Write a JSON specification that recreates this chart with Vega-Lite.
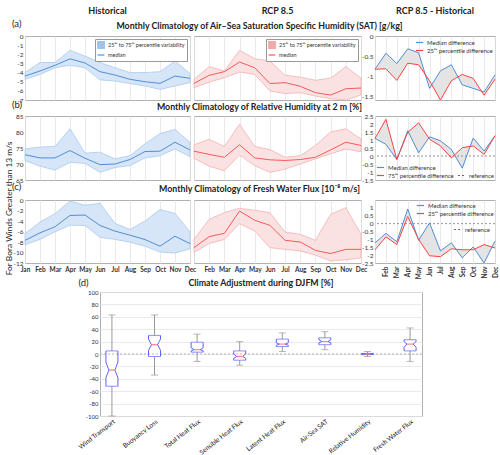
{
  "$schema": "https://vega.github.io/schema/vega-lite/v6.json",
  "background": "white",
  "padding": {"left": 3, "top": 0, "right": 0, "bottom": 0},
  "config": {
    "font": "Lato",
    "view": {"stroke": "#b0b0b0", "strokeWidth": 1},
    "axis": {"labelFont": "Lato", "labelFontSize": 6.5, "labelColor": "#333", "ticks": false, "domain": false, "gridColor": "#e4e4e4", "gridWidth": 0.8, "labelPadding": 2, "labelOverlap": false},
    "title": {"font": "Lato", "fontSize": 8.8, "fontWeight": "bold", "color": "#222", "baseline": "alphabetic", "offset": 4},
    "legend": {"labelFont": "Lato", "labelFontSize": 6, "labelColor": "#333", "rowPadding": 0, "symbolStrokeWidth": 1.2, "labelOffset": 3},
    "locale": {"number": {"decimal": ".", "thousands": ",", "grouping": [3], "currency": ["$", ""], "minus": "-"}}
  },
  "datasets": {
    "histA": [
      {"month": "Jan", "lo": -4.74, "med": -4.38, "hi": -4.0},
      {"month": "Feb", "lo": -4.2, "med": -3.83, "hi": -2.9},
      {"month": "Mar", "lo": -3.47, "med": -3.2, "hi": -2.9},
      {"month": "Apr", "lo": -3.2, "med": -2.5, "hi": -1.57},
      {"month": "May", "lo": -3.47, "med": -2.95, "hi": -2.2},
      {"month": "Jun", "lo": -4.8, "med": -3.9, "hi": -2.9},
      {"month": "Jul", "lo": -4.93, "med": -4.27, "hi": -3.47},
      {"month": "Aug", "lo": -5.2, "med": -4.74, "hi": -4.0},
      {"month": "Sep", "lo": -5.47, "med": -5.0, "hi": -4.0},
      {"month": "Oct", "lo": -5.84, "med": -5.18, "hi": -3.9},
      {"month": "Nov", "lo": -5.47, "med": -4.38, "hi": -2.74},
      {"month": "Dec", "lo": -5.1, "med": -4.63, "hi": -4.1}
    ],
    "rcpA": [
      {"month": "Jan", "lo": -5.66, "med": -5.18, "hi": -4.74},
      {"month": "Feb", "lo": -5.04, "med": -4.3, "hi": -3.36},
      {"month": "Mar", "lo": -4.56, "med": -3.9, "hi": -3.83},
      {"month": "Apr", "lo": -3.94, "med": -2.85, "hi": -1.57},
      {"month": "May", "lo": -4.2, "med": -3.47, "hi": -2.48},
      {"month": "Jun", "lo": -6.0, "med": -5.2, "hi": -2.74},
      {"month": "Jul", "lo": -6.3, "med": -5.1, "hi": -4.3},
      {"month": "Aug", "lo": -6.2, "med": -5.5, "hi": -4.5},
      {"month": "Sep", "lo": -6.57, "med": -6.2, "hi": -4.85},
      {"month": "Oct", "lo": -6.86, "med": -6.46, "hi": -4.6},
      {"month": "Nov", "lo": -7.0, "med": -5.77, "hi": -3.36},
      {"month": "Dec", "lo": -6.45, "med": -5.69, "hi": -4.6}
    ],
    "diffA": [
      {"month": "Jan", "med": -0.83, "p": -0.83},
      {"month": "Feb", "med": -0.43, "p": -0.82},
      {"month": "Mar", "med": -0.69, "p": -1.11},
      {"month": "Apr", "med": -0.32, "p": -0.68},
      {"month": "May", "med": -0.42, "p": -0.72},
      {"month": "Jun", "med": -1.31, "p": -1.12},
      {"month": "Jul", "med": -0.87, "p": -1.6},
      {"month": "Aug", "med": -0.72, "p": -1.12},
      {"month": "Sep", "med": -1.22, "p": -0.96},
      {"month": "Oct", "med": -1.31, "p": -1.06},
      {"month": "Nov", "med": -1.4, "p": -1.48},
      {"month": "Dec", "med": -0.97, "p": -1.08}
    ],
    "histB": [
      {"month": "Jan", "lo": 71.1, "med": 72.9, "hi": 74.7},
      {"month": "Feb", "lo": 69.3, "med": 71.9, "hi": 75.3},
      {"month": "Mar", "lo": 68.1, "med": 71.9, "hi": 75.5},
      {"month": "Apr", "lo": 70.5, "med": 74.2, "hi": 81.0},
      {"month": "May", "lo": 70.2, "med": 71.8, "hi": 73.4},
      {"month": "Jun", "lo": 67.4, "med": 69.8, "hi": 73.7},
      {"month": "Jul", "lo": 68.9, "med": 70.0, "hi": 71.6},
      {"month": "Aug", "lo": 69.5, "med": 71.4, "hi": 72.6},
      {"month": "Sep", "lo": 71.9, "med": 73.9, "hi": 76.3},
      {"month": "Oct", "lo": 72.6, "med": 74.0, "hi": 79.5},
      {"month": "Nov", "lo": 74.7, "med": 76.8, "hi": 80.8},
      {"month": "Dec", "lo": 72.3, "med": 74.4, "hi": 76.8}
    ],
    "rcpB": [
      {"month": "Jan", "lo": 71.8, "med": 74.0, "hi": 76.0},
      {"month": "Feb", "lo": 69.3, "med": 73.0, "hi": 77.7},
      {"month": "Mar", "lo": 67.9, "med": 72.1, "hi": 75.5},
      {"month": "Apr", "lo": 72.8, "med": 76.0, "hi": 82.4},
      {"month": "May", "lo": 69.5, "med": 71.9, "hi": 75.5},
      {"month": "Jun", "lo": 67.4, "med": 71.3, "hi": 74.5},
      {"month": "Jul", "lo": 68.4, "med": 71.1, "hi": 72.1},
      {"month": "Aug", "lo": 70.0, "med": 71.4, "hi": 72.6},
      {"month": "Sep", "lo": 71.6, "med": 72.1, "hi": 75.8},
      {"month": "Oct", "lo": 73.2, "med": 74.4, "hi": 80.0},
      {"month": "Nov", "lo": 74.7, "med": 76.8, "hi": 81.0},
      {"month": "Dec", "lo": 73.8, "med": 75.8, "hi": 77.8}
    ],
    "diffB": [
      {"month": "Jan", "med": 1.1, "p": 1.1},
      {"month": "Feb", "med": 0.73, "p": 2.29},
      {"month": "Mar", "med": -0.22, "p": -0.22},
      {"month": "Apr", "med": 1.58, "p": 1.48},
      {"month": "May", "med": 0.2, "p": 2.07},
      {"month": "Jun", "med": 1.2, "p": 1.05},
      {"month": "Jul", "med": 0.95, "p": 0.63},
      {"month": "Aug", "med": 0.41, "p": -0.12},
      {"month": "Sep", "med": -0.76, "p": 0.52},
      {"month": "Oct", "med": 1.12, "p": 0.63},
      {"month": "Nov", "med": 0.31, "p": 0.1},
      {"month": "Dec", "med": 1.27, "p": 1.27}
    ],
    "histC": [
      {"month": "Jan", "lo": -8.5, "med": -7.7, "hi": -6.4},
      {"month": "Feb", "lo": -7.5, "med": -6.25, "hi": -4.2},
      {"month": "Mar", "lo": -6.06, "med": -5.1, "hi": -2.6},
      {"month": "Apr", "lo": -4.8, "med": -2.94, "hi": -0.2},
      {"month": "May", "lo": -4.85, "med": -2.87, "hi": -1.0},
      {"month": "Jun", "lo": -7.1, "med": -4.85, "hi": -0.64},
      {"month": "Jul", "lo": -7.5, "med": -5.93, "hi": -4.47},
      {"month": "Aug", "lo": -8.04, "med": -6.7, "hi": -5.6},
      {"month": "Sep", "lo": -8.8, "med": -7.53, "hi": -4.0},
      {"month": "Oct", "lo": -9.9, "med": -8.8, "hi": -1.8},
      {"month": "Nov", "lo": -10.1, "med": -6.9, "hi": -2.55},
      {"month": "Dec", "lo": -9.3, "med": -8.3, "hi": -6.06}
    ],
    "rcpC": [
      {"month": "Jan", "lo": -10.0, "med": -9.08, "hi": -7.5},
      {"month": "Feb", "lo": -8.3, "med": -6.98, "hi": -3.68},
      {"month": "Mar", "lo": -7.5, "med": -6.35, "hi": -2.41},
      {"month": "Apr", "lo": -4.5, "med": -2.1, "hi": -1.59},
      {"month": "May", "lo": -5.9, "med": -3.87, "hi": -1.97},
      {"month": "Jun", "lo": -9.08, "med": -4.83, "hi": -2.41},
      {"month": "Jul", "lo": -9.4, "med": -7.68, "hi": -6.1},
      {"month": "Aug", "lo": -9.7, "med": -8.0, "hi": -6.54},
      {"month": "Sep", "lo": -10.5, "med": -9.6, "hi": -7.7},
      {"month": "Oct", "lo": -11.6, "med": -10.2, "hi": -2.73},
      {"month": "Nov", "lo": -11.4, "med": -9.4, "hi": -1.46},
      {"month": "Dec", "lo": -11.0, "med": -9.4, "hi": -6.54}
    ],
    "diffC": [
      {"month": "Jan", "med": -1.22, "p": -1.66},
      {"month": "Feb", "med": -0.62, "p": -0.84},
      {"month": "Mar", "med": -1.15, "p": -1.33},
      {"month": "Apr", "med": 0.93, "p": 0.45},
      {"month": "May", "med": -1.06, "p": -1.0},
      {"month": "Jun", "med": 0.05, "p": -2.04},
      {"month": "Jul", "med": -1.73, "p": -2.1},
      {"month": "Aug", "med": -1.22, "p": -1.6},
      {"month": "Sep", "med": -2.17, "p": -1.66},
      {"month": "Oct", "med": -1.48, "p": -1.66},
      {"month": "Nov", "med": -2.5, "p": -1.33},
      {"month": "Dec", "med": -1.1, "p": -1.55}
    ],
    "box": [
      {"cat": "Wind Transport", "lo": -100, "q1": -52, "nlo": -38, "med": -26, "nhi": -13, "q3": 5, "hi": 63},
      {"cat": "Buoyancy Loss", "lo": -34, "q1": -4, "nlo": 6, "med": 15, "nhi": 24, "q3": 30, "hi": 63},
      {"cat": "Total Heat Flux", "lo": -12, "q1": 3, "nlo": 5, "med": 7, "nhi": 10, "q3": 19, "hi": 32},
      {"cat": "Sensible Heat Flux", "lo": -18, "q1": -10, "nlo": -7, "med": -4, "nhi": 0, "q3": 5, "hi": 20},
      {"cat": "Latent Heat Flux", "lo": 4, "q1": 12, "nlo": 14, "med": 16, "nhi": 18, "q3": 24, "hi": 34},
      {"cat": "Air-Sea SAT", "lo": 7, "q1": 15, "nlo": 18, "med": 20, "nhi": 23, "q3": 26, "hi": 36},
      {"cat": "Relative Humidity", "lo": -4, "q1": -1, "nlo": -0.5, "med": 0, "nhi": 0.5, "q3": 1, "hi": 4},
      {"cat": "Fresh Water Flux", "lo": -12, "q1": 5, "nlo": 11, "med": 16, "nhi": 20, "q3": 23, "hi": 42}
    ]
  },
  "spacing": 0,
  "resolve": {"scale": {"x": "independent", "y": "independent", "color": "independent", "strokeDash": "independent"}, "axis": {"x": "independent", "y": "independent"}, "legend": {"color": "independent", "strokeDash": "independent"}},
  "vconcat": [
    {
      "columns": 4,
      "bounds": "flush",
      "align": "each",
      "spacing": {"row": 16, "column": 4},
      "resolve": {"scale": {"x": "independent", "y": "independent", "color": "independent", "strokeDash": "independent"}, "axis": {"x": "independent", "y": "independent"}, "legend": {"color": "independent", "strokeDash": "independent"}},
      "concat": [
        {"width": 165, "height": 19, "data": {"values": [{}]}, "view": {"stroke": "transparent"},
         "mark": {"type": "text", "font": "Lato", "fontSize": 9, "fontWeight": "bold", "color": "#222"},
         "encoding": {"text": {"value": "Historical"}}},
        {"width": 167, "height": 19, "data": {"values": [{}]}, "view": {"stroke": "transparent"},
         "mark": {"type": "text", "font": "Lato", "fontSize": 9, "fontWeight": "bold", "color": "#222"},
         "encoding": {"text": {"value": "RCP 8.5"}}},
        {"width": 6, "height": 19, "data": {"values": [{}]}, "view": {"stroke": null},
         "mark": {"type": "text"}, "encoding": {"text": {"value": ""}}},
        {"width": 120, "height": 19, "data": {"values": [{}]}, "view": {"stroke": "transparent"},
         "mark": {"type": "text", "font": "Lato", "fontSize": 9, "fontWeight": "bold", "color": "#222"},
         "encoding": {"text": {"value": "RCP 8.5 - Historical"}}},

        {"width": 165, "height": 64,
         "title": {"text": "(a)", "anchor": "start", "frame": "group", "dx": -13, "fontWeight": "normal", "fontSize": 9.5, "offset": 5},
         "data": {"name": "histA"},
         "encoding": {"x": {"field": "month", "type": "ordinal", "sort": null, "scale": {"type": "point", "padding": 0}, "axis": {"title": null, "labels": false, "grid": true}}},
         "layer": [
           {"mark": {"type": "area", "fill": "#d6e6f8", "stroke": "#a9c9ee", "strokeWidth": 0.8},
            "encoding": {
              "y": {"field": "lo", "type": "quantitative", "scale": {"domain": [-7, 0], "nice": false, "zero": false}, "axis": {"title": null, "values": [-7, -6, -5, -4, -3, -2, -1, 0], "tickCount": 30, "format": "~g", "grid": false}},
              "y2": {"field": "hi"},
              "order": {"value": null},
              "color": {"datum": "25ᵗʰ to 75ᵗʰ percentile variability", "scale": {"domain": ["25ᵗʰ to 75ᵗʰ percentile variability", "median"], "range": ["#9fc3ec", "#4f8fd6"]},
                        "legend": {"title": null, "orient": "top-right", "offset": 3, "fillColor": "white", "strokeColor": "#999", "padding": 2, "labelFontSize": 5.5, "symbolSize": 45,
                                   "symbolType": {"expr": "datum.value === 'median' ? 'stroke' : 'square'"}}}
            }},
           {"mark": {"type": "line", "stroke": "#4f8fd6", "strokeWidth": 1},
            "encoding": {"y": {"field": "med", "type": "quantitative"}, "order": {"value": null}, "color": {"datum": "median"}}}
         ]},
        {"width": 167, "height": 64,
         "title": {"text": "Monthly Climatology of Air–Sea Saturation Specific Humidity (SAT)  [g/kg]", "anchor": "middle", "frame": "group", "dx": -18, "offset": 5},
         "data": {"name": "rcpA"},
         "encoding": {"x": {"field": "month", "type": "ordinal", "sort": null, "scale": {"type": "point", "padding": 0}, "axis": {"title": null, "labels": false, "grid": true}}},
         "layer": [
           {"mark": {"type": "area", "fill": "#fbe2e2", "stroke": "#f5b0b0", "strokeWidth": 0.8},
            "encoding": {
              "y": {"field": "lo", "type": "quantitative", "scale": {"domain": [-7, 0], "nice": false, "zero": false}, "axis": null},
              "y2": {"field": "hi"},
              "order": {"value": null},
              "color": {"datum": "25ᵗʰ to 75ᵗʰ percentile variability", "scale": {"domain": ["25ᵗʰ to 75ᵗʰ percentile variability", "median"], "range": ["#f3a9a9", "#f25a5a"]},
                        "legend": {"title": null, "orient": "top-right", "offset": 3, "fillColor": "white", "strokeColor": "#999", "padding": 2, "labelFontSize": 5.5, "symbolSize": 45,
                                   "symbolType": {"expr": "datum.value === 'median' ? 'stroke' : 'square'"}}}
            }},
           {"mark": {"type": "line", "stroke": "#f25a5a", "strokeWidth": 1},
            "encoding": {"y": {"field": "med", "type": "quantitative"}, "order": {"value": null}, "color": {"datum": "median"}}}
         ]},
        {"width": 6, "height": 64, "data": {"values": [{}]}, "view": {"stroke": null},
         "mark": {"type": "text"}, "encoding": {"text": {"value": ""}}},
        {"width": 120, "height": 64,
         "data": {"name": "diffA"},
         "layer": [
           {"mark": {"type": "area", "fill": "#e4e4e4", "stroke": null},
            "encoding": {"x": {"field": "month", "type": "ordinal", "sort": null, "scale": {"type": "point", "padding": 0}, "axis": {"title": null, "labels": false, "grid": true}},
                         "y": {"field": "med", "type": "quantitative", "scale": {"domain": [-1.6, 0], "nice": false, "zero": false}, "axis": {"title": null, "values": [-1.5, -1, -0.5, 0], "tickCount": 30, "format": "~g", "grid": false}},
                         "y2": {"field": "p"}, "order": {"value": null}}},
           {"mark": {"type": "line", "strokeWidth": 1},
            "encoding": {"x": {"field": "month", "type": "ordinal", "sort": null}, "y": {"field": "med", "type": "quantitative"}, "order": {"value": null},
                         "color": {"datum": "Median difference", "scale": {"domain": ["Median difference", "25ᵗʰ percentile difference"], "range": ["#4c8fd6", "#ff4040"]},
                                   "legend": {"title": null, "orient": "top-right", "offset": 2, "labelFontSize": 6, "symbolSize": 50}}}},
           {"mark": {"type": "line", "strokeWidth": 1},
            "encoding": {"x": {"field": "month", "type": "ordinal", "sort": null}, "y": {"field": "p", "type": "quantitative"}, "order": {"value": null}, "color": {"datum": "25ᵗʰ percentile difference"}}}
         ]},

        {"width": 165, "height": 64,
         "title": {"text": "(b)", "anchor": "start", "frame": "group", "dx": -13, "fontWeight": "normal", "fontSize": 9.5, "offset": 4},
         "data": {"name": "histB"},
         "encoding": {"x": {"field": "month", "type": "ordinal", "sort": null, "scale": {"type": "point", "padding": 0}, "axis": {"title": null, "labels": false, "grid": true}}},
         "layer": [
           {"mark": {"type": "area", "fill": "#d6e6f8", "stroke": "#a9c9ee", "strokeWidth": 0.8},
            "encoding": {
              "y": {"field": "lo", "type": "quantitative", "scale": {"domain": [65, 85], "nice": false, "zero": false},
                    "axis": {"title": "For Bora Winds Greater than 13 m/s", "titleX": -17, "titleY": 92, "titleAngle": -90, "titleAlign": "center", "titleBaseline": "middle", "titleFontSize": 8.4, "titleFontWeight": "normal", "titleFont": "Lato", "titleColor": "#222",
                             "values": [65, 70, 75, 80, 85], "tickCount": 30, "format": "~g", "grid": false}},
              "y2": {"field": "hi"}, "order": {"value": null}}},
           {"mark": {"type": "line", "stroke": "#4f8fd6", "strokeWidth": 1},
            "encoding": {"y": {"field": "med", "type": "quantitative"}, "order": {"value": null}}}
         ]},
        {"width": 167, "height": 64,
         "title": {"text": "Monthly Climatology of Relative Humidity at 2 m  [%]", "anchor": "middle", "frame": "group", "dx": -18, "offset": 4},
         "data": {"name": "rcpB"},
         "encoding": {"x": {"field": "month", "type": "ordinal", "sort": null, "scale": {"type": "point", "padding": 0}, "axis": {"title": null, "labels": false, "grid": true}}},
         "layer": [
           {"mark": {"type": "area", "fill": "#fbe2e2", "stroke": "#f5b0b0", "strokeWidth": 0.8},
            "encoding": {
              "y": {"field": "lo", "type": "quantitative", "scale": {"domain": [65, 85], "nice": false, "zero": false}, "axis": null},
              "y2": {"field": "hi"}, "order": {"value": null}}},
           {"mark": {"type": "line", "stroke": "#f25a5a", "strokeWidth": 1},
            "encoding": {"y": {"field": "med", "type": "quantitative"}, "order": {"value": null}}}
         ]},
        {"width": 6, "height": 68, "data": {"values": [{}]}, "view": {"stroke": null},
         "mark": {"type": "text"}, "encoding": {"text": {"value": ""}}},
        {"width": 120, "height": 64,
         "data": {"name": "diffB"},
         "layer": [
           {"mark": {"type": "area", "fill": "#e4e4e4", "stroke": null},
            "encoding": {"x": {"field": "month", "type": "ordinal", "sort": null, "scale": {"type": "point", "padding": 0}, "axis": {"title": null, "labels": false, "grid": true}},
                         "y": {"field": "med", "type": "quantitative", "scale": {"domain": [-1.5, 2.5], "nice": false, "zero": false}, "axis": {"title": null, "values": [-1.5, -1, -0.5, 0, 0.5, 1, 1.5, 2, 2.5], "tickCount": 30, "format": "~g", "grid": false}},
                         "y2": {"field": "p"}, "order": {"value": null}}},
           {"data": {"values": [{}]}, "mark": {"type": "rule", "color": "#777", "strokeWidth": 0.8},
            "encoding": {"y": {"datum": 0}, "strokeDash": {"datum": "reference", "scale": {"range": [[2, 2]]}, "legend": {"title": null, "orient": "bottom-right", "offset": 1, "labelFontSize": 6, "symbolSize": 50, "symbolStrokeColor": "#666"}}}},
           {"mark": {"type": "line", "strokeWidth": 1},
            "encoding": {"x": {"field": "month", "type": "ordinal", "sort": null}, "y": {"field": "med", "type": "quantitative"}, "order": {"value": null},
                         "color": {"datum": "Median difference", "scale": {"domain": ["Median difference", "75ᵗʰ percentile difference"], "range": ["#4c8fd6", "#ff4040"]},
                                   "legend": {"title": null, "orient": "bottom-left", "offset": 1, "labelFontSize": 6, "symbolSize": 50}}}},
           {"mark": {"type": "line", "strokeWidth": 1},
            "encoding": {"x": {"field": "month", "type": "ordinal", "sort": null}, "y": {"field": "p", "type": "quantitative"}, "order": {"value": null}, "color": {"datum": "75ᵗʰ percentile difference"}}}
         ]},

        {"width": 165, "height": 63,
         "title": {"text": "(c)", "anchor": "start", "frame": "group", "dx": -13, "fontWeight": "normal", "fontSize": 9.5, "offset": 6},
         "data": {"name": "histC"},
         "encoding": {"x": {"field": "month", "type": "ordinal", "sort": null, "scale": {"type": "point", "padding": 0},
                            "axis": {"title": "(d)", "titleX": 53, "titleY": 22, "titleAlign": "left", "titleBaseline": "alphabetic", "titleFontSize": 9.5, "titleFontWeight": "normal", "titleFont": "Lato", "titleColor": "#222",
                                     "labels": true, "labelAngle": 0, "labelFontWeight": "bold", "labelOverlap": false, "labelPadding": 3, "grid": true}}},
         "layer": [
           {"mark": {"type": "area", "fill": "#d6e6f8", "stroke": "#a9c9ee", "strokeWidth": 0.8},
            "encoding": {
              "y": {"field": "lo", "type": "quantitative", "scale": {"domain": [-12, 0], "nice": false, "zero": false},
                    "axis": {"title": null, "values": [-12, -10, -8, -6, -4, -2, 0], "tickCount": 30, "format": "~g", "grid": false}},
              "y2": {"field": "hi"}, "order": {"value": null}}},
           {"mark": {"type": "line", "stroke": "#4f8fd6", "strokeWidth": 1},
            "encoding": {"y": {"field": "med", "type": "quantitative"}, "order": {"value": null}}}
         ]},
        {"width": 167, "height": 63,
         "title": {"text": "Monthly Climatology of Fresh Water Flux [10⁻⁸ m/s]", "anchor": "middle", "frame": "group", "dx": -18, "offset": 6},
         "data": {"name": "rcpC"},
         "encoding": {"x": {"field": "month", "type": "ordinal", "sort": null, "scale": {"type": "point", "padding": 0},
                            "axis": {"title": "Climate Adjustment  during DJFM [%]", "titleX": 66.5, "titleY": 22, "titleAlign": "center", "titleBaseline": "alphabetic", "titleFontSize": 8.8, "titleFontWeight": "bold", "titleFont": "Lato", "titleColor": "#222",
                                     "labels": true, "labelAngle": 0, "labelFontWeight": "bold", "labelOverlap": false, "labelPadding": 3, "grid": true, "labelExpr": "datum.value == 'Jan' ? '' : datum.label"}}},
         "layer": [
           {"mark": {"type": "area", "fill": "#fbe2e2", "stroke": "#f5b0b0", "strokeWidth": 0.8},
            "encoding": {
              "y": {"field": "lo", "type": "quantitative", "scale": {"domain": [-12, 0], "nice": false, "zero": false}, "axis": null},
              "y2": {"field": "hi"}, "order": {"value": null}}},
           {"mark": {"type": "line", "stroke": "#f25a5a", "strokeWidth": 1},
            "encoding": {"y": {"field": "med", "type": "quantitative"}, "order": {"value": null}}}
         ]},
        {"width": 6, "height": 63, "data": {"values": [{}]}, "view": {"stroke": null},
         "mark": {"type": "text"}, "encoding": {"text": {"value": ""}}},
        {"width": 120, "height": 63,
         "data": {"name": "diffC"},
         "layer": [
           {"mark": {"type": "area", "fill": "#e4e4e4", "stroke": null},
            "encoding": {"x": {"field": "month", "type": "ordinal", "sort": null, "scale": {"type": "point", "padding": 0},
                               "axis": {"title": null, "labels": true, "labelAngle": -90, "labelAlign": "right", "labelBaseline": "middle", "labelFontWeight": "bold", "labelOverlap": false, "labelPadding": 3, "grid": true, "labelExpr": "datum.value == 'Jan' ? '' : datum.label"}},
                         "y": {"field": "med", "type": "quantitative", "scale": {"domain": [-2.5, 1.5], "nice": false, "zero": false}, "axis": {"title": null, "values": [-2.5, -2, -1.5, -1, -0.5, 0, 0.5, 1], "tickCount": 30, "format": "~g", "grid": false}},
                         "y2": {"field": "p"}, "order": {"value": null}}},
           {"data": {"values": [{}]}, "mark": {"type": "rule", "color": "#777", "strokeWidth": 0.8},
            "encoding": {"y": {"datum": 0}, "strokeDash": {"datum": "reference", "scale": {"range": [[2, 2]]}, "legend": {"title": null, "orient": "none", "legendX": 78, "legendY": 25, "labelFontSize": 6, "symbolSize": 50, "symbolStrokeColor": "#666"}}}},
           {"mark": {"type": "line", "strokeWidth": 1},
            "encoding": {"x": {"field": "month", "type": "ordinal", "sort": null}, "y": {"field": "med", "type": "quantitative"}, "order": {"value": null},
                         "color": {"datum": "Median difference", "scale": {"domain": ["Median difference", "25ᵗʰ percentile difference"], "range": ["#4c8fd6", "#ff4040"]},
                                   "legend": {"title": null, "orient": "top-right", "offset": 1, "labelFontSize": 6, "symbolSize": 50}}}},
           {"mark": {"type": "line", "strokeWidth": 1},
            "encoding": {"x": {"field": "month", "type": "ordinal", "sort": null}, "y": {"field": "p", "type": "quantitative"}, "order": {"value": null}, "color": {"datum": "25ᵗʰ percentile difference"}}}
         ]}
      ]
    },
    {
      "bounds": "flush",
      "spacing": 4,
      "resolve": {"scale": {"x": "independent", "y": "independent"}, "axis": {"x": "independent", "y": "independent"}},
      "hconcat": [
        {"width": 71, "height": 124, "data": {"values": [{}]}, "view": {"stroke": null},
         "mark": {"type": "text"}, "encoding": {"text": {"value": ""}}},
        {"width": 322, "height": 124,
         "data": {"name": "box"},
         "layer": [
           {"mark": {"type": "rule", "color": "#999", "strokeWidth": 1},
            "encoding": {"x": {"field": "cat", "type": "nominal", "sort": null, "scale": {"type": "point", "padding": 0.28},
                               "axis": {"title": null, "labelAngle": -38, "labelAlign": "right", "labelBaseline": "top", "labelFontSize": 6.5, "labelColor": "#222", "labelPadding": 2, "grid": false, "labelOverlap": false}},
                         "y": {"field": "lo", "type": "quantitative", "scale": {"domain": [-100, 100], "nice": false},
                               "axis": {"title": null, "values": [-100, -80, -60, -40, -20, 0, 20, 40, 60, 80, 100], "tickCount": 30, "format": "d", "grid": true, "labelFontSize": 6}},
                         "y2": {"field": "hi"}}},
           {"mark": {"type": "tick", "color": "#999", "size": 7, "thickness": 1}, "encoding": {"x": {"field": "cat", "type": "nominal", "sort": null}, "y": {"field": "lo", "type": "quantitative"}}},
           {"mark": {"type": "tick", "color": "#999", "size": 7, "thickness": 1}, "encoding": {"x": {"field": "cat", "type": "nominal", "sort": null}, "y": {"field": "hi", "type": "quantitative"}}},
           {"mark": {"type": "bar", "fill": "white", "size": 12}, "encoding": {"x": {"field": "cat", "type": "nominal", "sort": null}, "y": {"field": "q1", "type": "quantitative"}, "y2": {"field": "q3"}}},
           {"data": {"values": [{}]}, "mark": {"type": "rule", "color": "#999", "strokeWidth": 0.7, "strokeDash": [2, 2]}, "encoding": {"y": {"datum": 0}}},
           {"mark": {"type": "rule", "color": "#6060ff", "strokeWidth": 1, "xOffset": -6, "x2Offset": -6}, "encoding": {"x": {"field": "cat", "type": "nominal", "sort": null}, "x2": {"field": "cat"}, "y": {"field": "q1", "type": "quantitative"}, "y2": {"field": "nlo"}}},
           {"mark": {"type": "rule", "color": "#6060ff", "strokeWidth": 1, "xOffset": -6, "x2Offset": -3}, "encoding": {"x": {"field": "cat", "type": "nominal", "sort": null}, "x2": {"field": "cat"}, "y": {"field": "nlo", "type": "quantitative"}, "y2": {"field": "med"}}},
           {"mark": {"type": "rule", "color": "#6060ff", "strokeWidth": 1, "xOffset": -3, "x2Offset": -6}, "encoding": {"x": {"field": "cat", "type": "nominal", "sort": null}, "x2": {"field": "cat"}, "y": {"field": "med", "type": "quantitative"}, "y2": {"field": "nhi"}}},
           {"mark": {"type": "rule", "color": "#6060ff", "strokeWidth": 1, "xOffset": -6, "x2Offset": -6}, "encoding": {"x": {"field": "cat", "type": "nominal", "sort": null}, "x2": {"field": "cat"}, "y": {"field": "nhi", "type": "quantitative"}, "y2": {"field": "q3"}}},
           {"mark": {"type": "rule", "color": "#6060ff", "strokeWidth": 1, "xOffset": 6, "x2Offset": 6}, "encoding": {"x": {"field": "cat", "type": "nominal", "sort": null}, "x2": {"field": "cat"}, "y": {"field": "q1", "type": "quantitative"}, "y2": {"field": "nlo"}}},
           {"mark": {"type": "rule", "color": "#6060ff", "strokeWidth": 1, "xOffset": 6, "x2Offset": 3}, "encoding": {"x": {"field": "cat", "type": "nominal", "sort": null}, "x2": {"field": "cat"}, "y": {"field": "nlo", "type": "quantitative"}, "y2": {"field": "med"}}},
           {"mark": {"type": "rule", "color": "#6060ff", "strokeWidth": 1, "xOffset": 3, "x2Offset": 6}, "encoding": {"x": {"field": "cat", "type": "nominal", "sort": null}, "x2": {"field": "cat"}, "y": {"field": "med", "type": "quantitative"}, "y2": {"field": "nhi"}}},
           {"mark": {"type": "rule", "color": "#6060ff", "strokeWidth": 1, "xOffset": 6, "x2Offset": 6}, "encoding": {"x": {"field": "cat", "type": "nominal", "sort": null}, "x2": {"field": "cat"}, "y": {"field": "nhi", "type": "quantitative"}, "y2": {"field": "q3"}}},
           {"mark": {"type": "tick", "color": "#6060ff", "size": 12, "thickness": 1}, "encoding": {"x": {"field": "cat", "type": "nominal", "sort": null}, "y": {"field": "q1", "type": "quantitative"}}},
           {"mark": {"type": "tick", "color": "#6060ff", "size": 12, "thickness": 1}, "encoding": {"x": {"field": "cat", "type": "nominal", "sort": null}, "y": {"field": "q3", "type": "quantitative"}}},
           {"mark": {"type": "tick", "color": "#ff5050", "size": 6, "thickness": 1.2}, "encoding": {"x": {"field": "cat", "type": "nominal", "sort": null}, "y": {"field": "med", "type": "quantitative"}}}
         ]}
      ]
    }
  ]
}
